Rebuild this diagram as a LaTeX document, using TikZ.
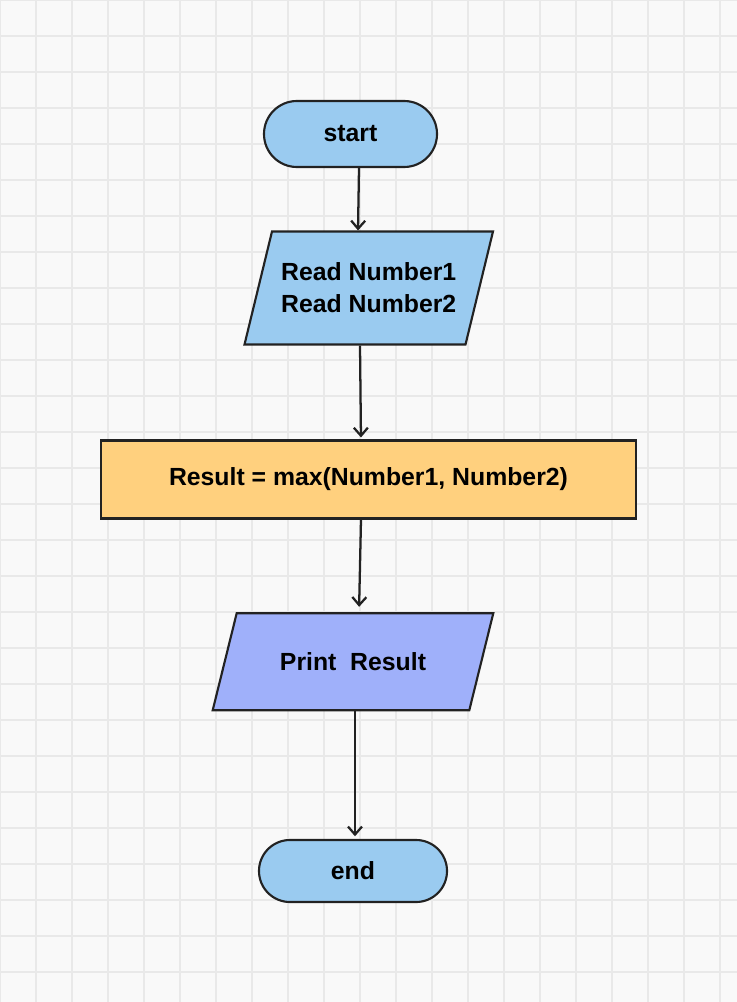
\documentclass[tikz,border=0pt]{standalone}
\usepackage{fontspec}
\setmainfont{Liberation Sans}
\usetikzlibrary{calc,arrows.meta}
\definecolor{bgc}{HTML}{F9F9F9}
\definecolor{gridc}{HTML}{E9E9E9}
\definecolor{termblue}{HTML}{9ACBF0}
\definecolor{procorange}{HTML}{FFD07E}
\definecolor{printblue}{HTML}{9FB0FA}
\definecolor{edgec}{HTML}{222222}
\begin{document}
\begin{tikzpicture}[x=0.75pt,y=-0.75pt,
  base/.style={draw=edgec, line width=1.6pt, text=black, inner sep=0pt, align=center,
    font=\bfseries\fontsize{18.6pt}{24pt}\selectfont},
  termbox/.style={base, fill=termblue, rectangle},
  procbox/.style={base, fill=procorange, rectangle},
  iotext/.style={base, draw=none, rectangle},
  ioshape/.style={draw=edgec, line width=1.6pt, line join=miter},
  arr/.style={draw=edgec, line width=1.7pt, -{Straight Barb[length=6pt,width=10.5pt]}},
  gridline/.style={draw=gridc, line width=1.1pt}]
\useasboundingbox (0,0) rectangle (737,1002);
\begin{scope}
\clip (0,0) rectangle (737,1002);
\fill[bgc] (0,0) rectangle (737,1002);
\foreach \x in {0,36,...,720} \draw[gridline] (\x,0) -- (\x,1002);
\foreach \y in {0,36,...,1000} \draw[gridline] (0,\y) -- (737,\y);
\end{scope}

% input/output shapes (parallelograms)
\coordinate (readc) at (368.75,288);
\filldraw[ioshape, fill=termblue]
  ($(readc)+(-96.75,-56.5)$) -- ($(readc)+(124.25,-56.5)$) --
  ($(readc)+(96.75,56.5)$) -- ($(readc)+(-124.25,56.5)$) -- cycle;
\coordinate (printc) at (353,661.7);
\filldraw[ioshape, fill=printblue]
  ($(printc)+(-116.3,-48.5)$) -- ($(printc)+(140.3,-48.5)$) --
  ($(printc)+(116.3,48.5)$) -- ($(printc)+(-140.3,48.5)$) -- cycle;

\node[termbox, minimum width=173*0.75pt, minimum height=66*0.75pt, rounded corners=32.9*0.75pt]
  (start) at (350.5,134) {start};
\node[iotext, minimum width=221*0.75pt, minimum height=113*0.75pt]
  (read) at (readc) {Read Number1\\Read Number2};
\node[procbox, minimum width=535*0.75pt, minimum height=78*0.75pt]
  (result) at (368.5,479.5) {Result = max(Number1, Number2)};
\node[iotext, minimum width=256*0.75pt, minimum height=97*0.75pt]
  (print) at (printc) {Print~~Result};
\node[termbox, minimum width=188*0.75pt, minimum height=62*0.75pt, rounded corners=30.9*0.75pt]
  (end) at (353,871) {end};

\draw[arr] ([xshift=8.5*0.75pt]start.south) -- ([xshift=-10.75*0.75pt]read.north);
\draw[arr, shorten >=1.5pt] ([xshift=-8.75*0.75pt]read.south) -- ([xshift=-7.5*0.75pt]result.north);
\draw[arr, shorten >=4pt] ([xshift=-7.5*0.75pt]result.south) -- ([xshift=6*0.75pt]print.north);
\draw[arr, shorten >=2pt] ([xshift=2*0.75pt]print.south) -- ([xshift=2*0.75pt]end.north);
\end{tikzpicture}
\end{document}
